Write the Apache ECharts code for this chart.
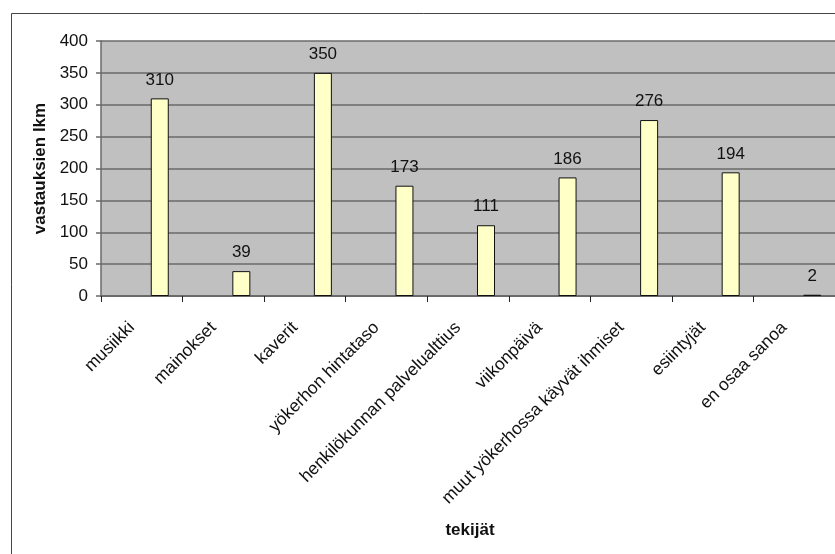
<!DOCTYPE html>
<html>
<head>
<meta charset="utf-8">
<script src="https://cdn.jsdelivr.net/npm/echarts@6/dist/echarts.min.js"></script>
<style>
  html, body { margin: 0; padding: 0; background: #ffffff; }
  #chart { width: 835px; height: 554px; }
</style>
</head>
<body>
<div id="chart"></div>
<script>
// Survey answers: which factors matter when choosing a nightclub
const categories = [
  'musiikki',
  'mainokset',
  'kaverit',
  'yökerhon hintataso',
  'henkilökunnan palvelualttius',
  'viikonpäivä',
  'muut yökerhossa käyvät ihmiset',
  'esiintyjät',
  'en osaa sanoa'
];
const answerCounts = [310, 39, 350, 173, 111, 186, 276, 194, 2];
const yTicks = { min: 0, max: 400, step: 50 };
const yAxisTitle = 'vastauksien lkm';
const xAxisTitle = 'tekijät';

const font = '"Liberation Sans", Arial, sans-serif';
const textColor = '#111111';
const gridLineColor = '#6a6a6a';

const chart = echarts.init(document.getElementById('chart'), null, { renderer: 'canvas' });

// The value bars sit in the third slot of each category; the two
// leading series are empty and only reserve their slots.
const emptySlot = {
  type: 'bar',
  data: [],
  barWidth: 18,
  barGap: '0%',
  silent: true
};

chart.setOption({
  backgroundColor: '#ffffff',
  animation: false,
  grid: {
    left: 101,
    top: 41,
    right: -2,
    bottom: 258,
    show: true,
    backgroundColor: '#c0c0c0',
    borderWidth: 0
  },
  xAxis: {
    type: 'category',
    data: categories,
    boundaryGap: true,
    axisLine: { show: true, lineStyle: { color: gridLineColor, width: 2 } },
    axisTick: { show: true, length: 6, inside: false, lineStyle: { color: '#222', width: 1 } },
    axisLabel: {
      interval: 0,
      rotate: 45,
      margin: 19,
      padding: [0, 14, 0, 0],
      fontFamily: font,
      fontSize: 17.5,
      color: textColor
    },
    splitLine: { show: false }
  },
  yAxis: {
    type: 'value',
    min: yTicks.min,
    max: yTicks.max,
    interval: yTicks.step,
    name: yAxisTitle,
    nameLocation: 'middle',
    nameGap: 51,
    nameTextStyle: {
      fontFamily: font,
      fontSize: 17,
      fontWeight: 'bold',
      color: textColor
    },
    axisLine: { show: true, lineStyle: { color: gridLineColor, width: 1.5 } },
    axisTick: { show: true, length: 5, inside: false, lineStyle: { color: gridLineColor, width: 1.5 } },
    axisLabel: {
      margin: 13,
      fontFamily: font,
      fontSize: 17,
      color: textColor
    },
    splitLine: { show: true, lineStyle: { color: gridLineColor, width: 1.5 } }
  },
  series: [
    emptySlot,
    Object.assign({}, emptySlot),
    {
      type: 'bar',
      data: answerCounts,
      barWidth: 18,
      barGap: '0%',
      itemStyle: {
        color: '#ffffc8',
        borderColor: '#111111',
        borderWidth: 1
      },
      label: {
        show: true,
        position: 'top',
        distance: 10,
        fontFamily: font,
        fontSize: 17,
        color: textColor
      }
    }
  ],
  graphic: [
    {
      type: 'rect',
      left: 9,
      top: 11,
      shape: { x: 0, y: 0, width: 900, height: 600 },
      style: { fill: 'none', stroke: '#444444', lineWidth: 1 },
      silent: true,
      z: -1
    },
    {
      type: 'text',
      x: 470,
      y: 530,
      style: {
        text: xAxisTitle,
        font: 'bold 17px ' + font,
        fill: textColor,
        textAlign: 'center',
        textVerticalAlign: 'middle'
      }
    }
  ]
});
</script>
</body>
</html>
